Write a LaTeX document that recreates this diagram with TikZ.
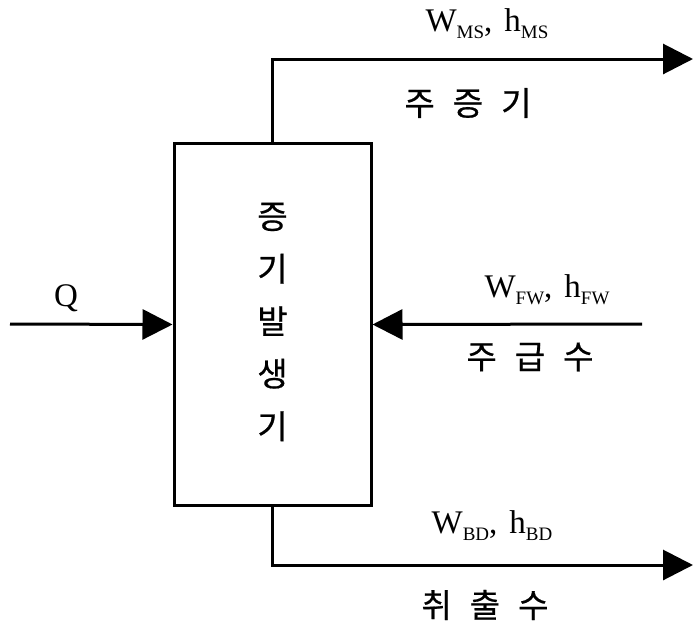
\documentclass[tikz,border=0pt]{standalone}
\usepackage{fontspec}
\setmainfont{Liberation Serif}
\newfontfamily\hangul[FakeBold=0.6]{Noto Sans CJK KR}
\usetikzlibrary{arrows.meta}
% quantity with a lowered, smaller subscript
\newcommand{\qty}[2]{#1\raisebox{-7pt}{\fontsize{19}{19}\selectfont #2}}
\tikzset{
  flow/.style={line width=3pt, -{Triangle[length=30pt,width=30pt]}},
  unitbox/.style={draw, line width=3pt, minimum width=197pt, minimum height=362pt, inner sep=0pt},
  sym/.style={font=\fontsize{33}{33}\selectfont, inner sep=0pt},
  kor/.style={font=\hangul\fontsize{33}{33}\selectfont, inner sep=0pt},
}
\newcommand{\gap}{\hspace{18pt}}
\begin{document}
\begin{tikzpicture}[x=1pt,y=-1pt]
\useasboundingbox (0,0) rectangle (693,624);
% steam generator body
\node[unitbox] (sg) at (272.5,324.5) {};
\node[font=\hangul\fontsize{33}{52.5}\selectfont, align=center, inner sep=0pt] (sgtxt) at (272.5,322) {증\\기\\발\\생\\기};
% stream end points
\coordinate (msout) at (693,59);
\coordinate (qin) at (10,324);
\coordinate (fwin) at (642,324);
\coordinate (bdout) at (693,565);
% main steam leaving the top
\draw[flow] (sg.north) |- (msout);
% blowdown leaving the bottom
\draw[flow] (sg.south) |- (bdout);
% heat input
\draw[flow] (qin) -- (sg.west);
% feedwater entering
\draw[flow] (fwin) -- (sg.east);
% labels
\node[sym] (lms) at (487,24) {\qty{W}{MS},\hspace{12pt}\qty{h}{MS}};
\node[kor] (kms) at (468,103) {주\gap 증\gap 기};
\node[sym] (lq) at (66,298) {Q};
\node[sym] (lfw) at (547,290) {\qty{W}{FW},\hspace{12pt}\qty{h}{FW}};
\node[kor] (kfw) at (530,357) {주\gap 급\gap 수};
\node[sym] (lbd) at (492,526) {\qty{W}{BD},\hspace{12pt}\qty{h}{BD}};
\node[kor] (kbd) at (485,605) {취\gap 출\gap 수};
\end{tikzpicture}
\end{document}
